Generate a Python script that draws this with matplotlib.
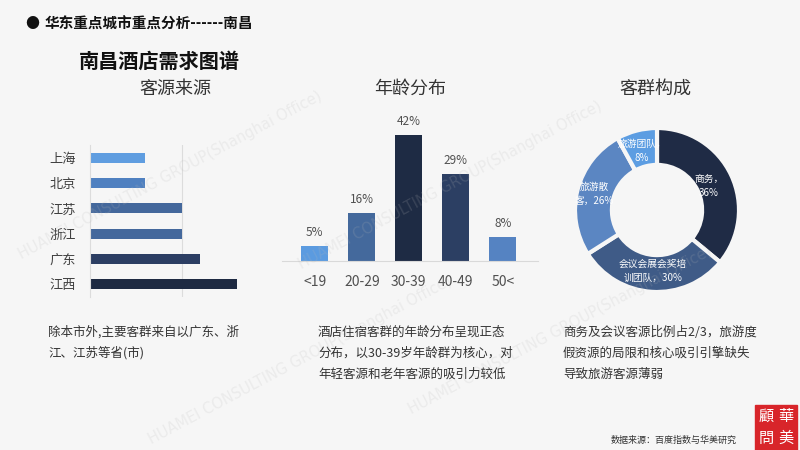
import numpy as np
import matplotlib
matplotlib.use("Agg")
import matplotlib.pyplot as plt
from matplotlib.patches import Rectangle

plt.rcParams['font.family'] = ['Noto Sans CJK SC', 'DejaVu Sans']

# 客源来源
cities = ['上海', '北京', '江苏', '浙江', '广东', '江西']
city_vals = [6, 6, 10, 10, 12, 16]
city_colors = ['#5f9de0', '#4f80c0', '#44689c', '#44689c', '#2c3e63', '#1e2a42']

# 年龄分布
ages = ['<19', '20-29', '30-39', '40-49', '50<']
age_vals = [5, 16, 42, 29, 8]
age_colors = ['#5b9be0', '#44699c', '#1e2b44', '#2c3f63', '#5583c2']

# 客群构成
seg_labels = ['商务，\n36%', '会议会展会奖培\n训团队，30%', '旅游散\n客，26%', '旅游团队，\n8%']
seg_vals = [36, 30, 26, 8]
seg_colors = ['#1f2b45', '#3f5b87', '#5b86c2', '#5c9de2']
label_r = [0.70, 0.74, 0.79, 0.74]

notes = [
    ['除本市外,主要客群来自以广东、浙', '江、江苏等省(市)'],
    ['酒店住宿客群的年龄分布呈现正态', '分布，以30-39岁年龄群为核心，对', '年轻客源和老年客源的吸引力较低'],
    ['商务及会议客源比例占2/3，旅游度', '假资源的局限和核心吸引引擎缺失', '导致旅游客源薄弱'],
]

BG = '#f6f6f6'
W, H = 800, 450
fig = plt.figure(figsize=(8, 4.5), dpi=100, facecolor=BG)


def px_axes(x0, y0, x1, y1):
    return fig.add_axes([x0 / W, 1 - y1 / H, (x1 - x0) / W, (y1 - y0) / H])


def ftext(x, y, s, **kw):
    return fig.text(x / W, 1 - y / H, s, **kw)


# watermark
wm = 'HUAMEI CONSULTING GROUP(Shanghai Office)'
for (x, y) in [(170, 175), (450, 185), (300, 360), (560, 330)]:
    ftext(x, y, wm, fontsize=10.5, color='#b8b8b8', alpha=0.18, rotation=28,
          ha='center', va='center', family='DejaVu Sans')

# header
ftext(32, 24, '●', fontsize=10, color='#111111', ha='center', va='center')
ftext(45, 24, '华东重点城市重点分析------南昌', fontsize=10.5, fontweight='bold',
      color='#111111', va='center')
ftext(79, 61, '南昌酒店需求图谱', fontsize=14.5, fontweight='bold', color='#111111', va='center')

for x, t in [(175, '客源来源'), (410, '年龄分布'), (655, '客群构成')]:
    ftext(x, 89, t, fontsize=13, color='#333333', ha='center', va='center')

# left: horizontal bars
ax1 = px_axes(90, 145.5, 273.4, 296.5)
ax1.set_facecolor('none')
ax1.barh(np.arange(len(cities)), city_vals, height=0.4, color=city_colors)
ax1.set_xlim(0, 20)
ax1.set_ylim(len(cities) - 0.5, -0.5)
ax1.set_yticks(np.arange(len(cities)))
ax1.set_yticklabels(cities, fontsize=9.5, color='#404040')
ax1.set_xticks([10])
ax1.set_xticklabels([])
ax1.tick_params(length=0, pad=10)
ax1.grid(axis='x', color='#dcdcdc', lw=0.8)
ax1.set_axisbelow(True)
for s in ['top', 'right', 'bottom']:
    ax1.spines[s].set_visible(False)
ax1.spines['left'].set_color('#dcdcdc')

# middle: vertical bars
ax2 = px_axes(282, 110.7, 538, 260.7)
ax2.set_facecolor('none')
xs = np.arange(len(ages))
bars = ax2.bar(xs, age_vals, width=0.57, color=age_colors)
ax2.set_xlim(-0.7, 4.75)
ax2.set_ylim(0, 50)
ax2.set_xticks(xs)
ax2.set_xticklabels(ages, fontsize=10, color='#505050')
ax2.set_yticks([])
ax2.tick_params(length=0, pad=10)
for s in ['top', 'right', 'left']:
    ax2.spines[s].set_visible(False)
ax2.spines['bottom'].set_color('#d9d9d9')
for b, v in zip(bars, age_vals):
    ax2.annotate(f'{v}%', (b.get_x() + b.get_width() / 2, v), xytext=(0, 5),
                 textcoords='offset points', ha='center', va='bottom',
                 fontsize=8.5, color='#505050')

# right: donut
ax3 = px_axes(575, 128, 739, 292)
wedges, _ = ax3.pie(seg_vals, colors=seg_colors, startangle=90, counterclock=False,
                    radius=1, wedgeprops=dict(width=0.45, edgecolor=BG, linewidth=3))
ax3.set_xlim(-1, 1)
ax3.set_ylim(-1, 1)
ax3.set_aspect('equal')
for w, lab, r in zip(wedges, seg_labels, label_r):
    ang = np.deg2rad((w.theta1 + w.theta2) / 2)
    ax3.text(r * np.cos(ang), r * np.sin(ang), lab, ha='center', va='center',
             fontsize=7.0, color='white', linespacing=1.5)

# notes
for x0, lines in zip([48, 318, 563], notes):
    for i, line in enumerate(lines):
        ftext(x0, 332 + i * 21, line, fontsize=9, color='#333333', va='center')

ftext(737, 440, '数据来源：百度指数与华美研究', fontsize=6.5, color='#333333',
      ha='right', va='center', style='italic')

# seal
fig.patches.append(Rectangle((755 / W, 1 - 450 / H), 42 / W, 45 / H,
                             transform=fig.transFigure, color='#d8252a', zorder=5))
for x, y, c in [(786, 416, '華'), (786, 438, '美'), (766, 416, '顧'), (766, 438, '問')]:
    ftext(x, y, c, fontsize=11, color='white', ha='center', va='center', zorder=6,
          family=['Noto Sans CJK TC', 'DejaVu Sans'])

fig.savefig('out.png', dpi=100, facecolor=BG)
